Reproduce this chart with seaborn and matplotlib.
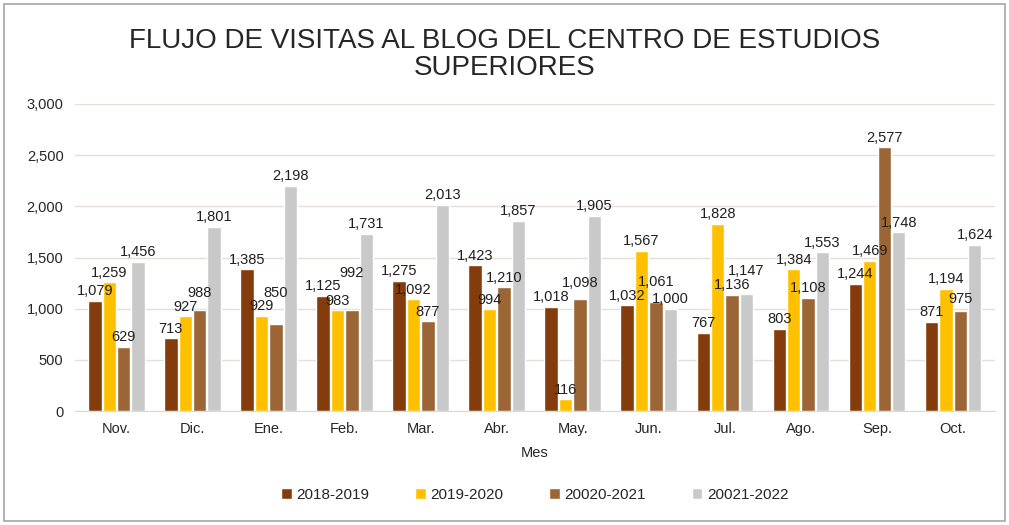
import pandas as pd
import numpy as np
import seaborn as sns
import matplotlib.pyplot as plt
from matplotlib.patches import Rectangle
from matplotlib.ticker import FuncFormatter

# Data
meses = ['Nov.', 'Dic.', 'Ene.', 'Feb.', 'Mar.', 'Abr.', 'May.', 'Jun.', 'Jul.', 'Ago.', 'Sep.', 'Oct.']
periodos = ['2018-2019', '2019-2020', '20020-2021', '20021-2022']
v_2018_2019 = [1079, 713, 1385, 1125, 1275, 1423, 1018, 1032, 767, 803, 1244, 871]
v_2019_2020 = [1259, 927, 929, 983, 1092, 994, 116, 1567, 1828, 1384, 1469, 1194]
v_2020_2021 = [629, 988, 850, 992, 877, 1210, 1098, 1061, 1136, 1108, 2577, 975]
v_2021_2022 = [1456, 1801, 2198, 1731, 2013, 1857, 1905, 1000, 1147, 1553, 1748, 1624]

colores = ['#843C0C', '#FFC000', '#9C6535', '#C9C9C9']

series = [v_2018_2019, v_2019_2020, v_2020_2021, v_2021_2022]
df = pd.concat([
    pd.DataFrame({'Mes': meses, 'Periodo': p, 'Visitas': v})
    for p, v in zip(periodos, series)
])

sns.set_style('white')
plt.rcParams['font.family'] = ['Liberation Sans', 'DejaVu Sans']

fig = plt.figure(figsize=(10.09, 5.25), dpi=100)
ax = fig.add_axes([0.074, 0.217, 0.912, 0.585])

sns.barplot(data=df, x='Mes', y='Visitas', hue='Periodo', palette=colores,
            saturation=1, width=0.76, gap=0.07, ax=ax, legend=True)

ax.set_ylim(0, 3000)
ax.set_xlim(-0.55, 11.55)

# data labels, bumped up when they would collide (like Excel does)
pad = 25
h = 135        # label height in data units
w = 0.42       # label width in category units
grupos = {}
for cont in ax.containers:
    for i, bar in enumerate(cont):
        grupos.setdefault(i, []).append(bar)
for i, bars in grupos.items():
    placed = []
    for bar in bars:
        xc = bar.get_x() + bar.get_width() / 2
        y = bar.get_height() + pad
        moved = True
        while moved:
            moved = False
            for px, py in placed:
                if abs(px - xc) < w and abs(py - y) < h:
                    y = py + h
                    moved = True
        placed.append((xc, y))
        ax.text(xc, y, f'{bar.get_height():,.0f}', ha='center', va='bottom',
                fontsize=10.5, color='#202020')

ax.set_yticks(np.arange(0, 3001, 500))
ax.yaxis.set_major_formatter(FuncFormatter(lambda v, p: f'{v:,.0f}'))
ax.grid(axis='y', color='#E6DEDA', linewidth=1)
ax.set_axisbelow(True)
for s in ['top', 'right', 'left']:
    ax.spines[s].set_visible(False)
ax.spines['bottom'].set_color('#D9D9D9')
ax.tick_params(axis='both', length=0, labelsize=10.5, pad=8)
ax.set_xlabel('Mes', fontsize=10.5, labelpad=7)
ax.set_ylabel('')

ax.legend(loc='upper center', bbox_to_anchor=(0.5, -0.205), ncol=4, frameon=False,
          fontsize=11, handlelength=0.7, handleheight=0.7, handletextpad=0.3,
          columnspacing=3.0)

fig.text(0.5, 0.947, 'FLUJO DE VISITAS AL BLOG DEL CENTRO DE ESTUDIOS\nSUPERIORES',
         ha='center', va='top', fontsize=20, linespacing=1.05)

fig.patches.append(Rectangle((0.004, 0.008), 0.992, 0.985, transform=fig.transFigure,
                             fill=False, edgecolor='#A6A6A6', linewidth=1.2))

plt.savefig('out.png', dpi=100)
